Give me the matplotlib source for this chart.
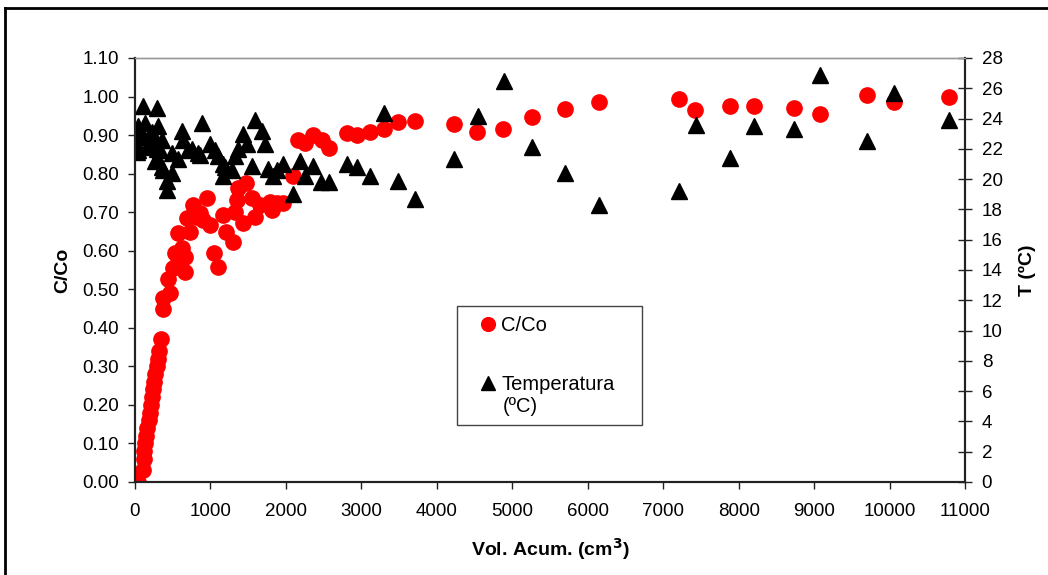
import matplotlib
matplotlib.use("Agg")
from matplotlib import pyplot as plt
from matplotlib.lines import Line2D
from matplotlib.patches import Rectangle

plt.rcParams['font.family'] = ['Liberation Sans', 'DejaVu Sans']

# C/Co vs volumen acumulado
vol_c = [20, 40, 100, 115, 125, 135, 150, 165, 180, 195, 215, 230, 245, 255, 265, 285, 300, 320, 350,
         375, 464, 375, 442, 508, 663, 574, 530, 619, 663, 574, 729, 685, 773, 862, 906, 994, 959, 817,
         1051, 1105, 1162, 1206, 1303, 1347, 1370, 1471, 1325, 1436, 1546, 1591, 1657, 1811, 1790, 1966,
         1878, 2090, 2165, 2253, 2363, 2474, 2576, 2814, 2946, 3115, 3300, 3490, 3711, 4232, 4538, 4882,
         5266, 5699, 6154, 7207, 7428, 7885, 8202, 8733, 9079, 9706, 10060, 10793]
c_co = [0.00, 0.00, 0.03, 0.06, 0.08, 0.10, 0.12, 0.14, 0.16, 0.18, 0.20, 0.22, 0.24, 0.26, 0.28, 0.30,
        0.32, 0.34, 0.37,
        0.45, 0.49, 0.477, 0.526, 0.554, 0.545, 0.571, 0.593, 0.606, 0.584, 0.647, 0.649, 0.684, 0.718,
        0.697, 0.680, 0.667, 0.736, 0.688, 0.593, 0.558, 0.693, 0.649, 0.623, 0.731, 0.762, 0.775, 0.701,
        0.671, 0.736, 0.688, 0.718, 0.706, 0.727, 0.725, 0.723, 0.795, 0.887, 0.879, 0.900, 0.887, 0.866,
        0.905, 0.900, 0.909, 0.915, 0.934, 0.936, 0.929, 0.909, 0.915, 0.948, 0.967, 0.986, 0.993, 0.965,
        0.976, 0.975, 0.971, 0.955, 1.003, 0.987, 1.000]

# Temperatura (ºC)
vol_t = [0, 0, 20, 44, 44, 110, 110, 133, 155, 199, 221, 243, 265, 287, 287, 287, 309, 331, 353, 353,
         375, 420, 420, 486, 486, 574, 619, 641, 707, 751, 839, 862, 884, 994, 1060, 1105, 1171, 1171,
         1193, 1281, 1325, 1370, 1436, 1480, 1546, 1591, 1679, 1723, 1767, 1834, 1878, 1958, 2090, 2187,
         2253, 2363, 2461, 2576, 2814, 2946, 3115, 3300, 3490, 3711, 4232, 4542, 4890, 5266, 5699, 6154,
         7210, 7431, 7886, 8204, 8734, 9079, 9706, 10060, 10793]
temp = [23.0, 22.5, 21.8, 23.5, 21.9, 24.8, 22.8, 23.7, 22.1, 23.0, 23.1, 22.3, 21.2, 24.7, 22.0, 21.3,
        23.5, 21.9, 22.6, 20.8, 20.6, 19.9, 19.3, 21.7, 20.4, 21.3, 23.2, 22.6, 21.9, 22.0, 21.7, 21.6,
        23.7, 22.3, 21.9, 21.5, 21.0, 20.2, 20.8, 20.6, 21.5, 22.0, 23.0, 22.3, 20.9, 23.9, 23.2, 22.3,
        20.7, 20.2, 20.6, 21.0, 19.0, 21.2, 20.2, 20.9, 19.8, 19.8, 21.0, 20.8, 20.2, 24.4, 19.9, 18.7,
        21.3, 24.2, 26.5, 22.1, 20.4, 18.3, 19.2, 23.6, 21.4, 23.5, 23.3, 26.9, 22.5, 25.7, 23.9]

x_ticks = list(range(0, 11001, 1000))
c_ticks = [i / 100 for i in range(0, 111, 10)]
t_ticks = list(range(0, 29, 2))

fs = 13.5

fig = plt.figure(figsize=(10.48, 5.75), dpi=100)
ax = fig.add_axes([135 / 1048, 93 / 575, 830 / 1048, 424 / 575])
ax2 = ax.twinx()

ax.plot(vol_c, c_co, 'o', color='#ff0000', ms=11, mec='#ff0000', ls='none', label='C/Co')
ax2.plot(vol_t, temp, '^', color='black', ms=11.5, ls='none', label='Temperatura')

ax.set_xlim(0, 11000)
ax.set_ylim(0, 1.10)
ax2.set_ylim(0, 28)
ax.set_xticks(x_ticks)
ax.set_yticks(c_ticks)
ax.set_yticklabels(['%.2f' % v for v in c_ticks])
ax2.set_yticks(t_ticks)

for a in (ax, ax2):
    a.spines['top'].set_color('#999999')
    a.spines['top'].set_linewidth(1)
    for s in ('left', 'bottom', 'right'):
        a.spines[s].set_color('#222222')
        a.spines[s].set_linewidth(1.5)

ax.tick_params(axis='x', labelsize=fs, direction='out', length=5, width=1, colors='#222222',
               labelcolor='black', pad=10)
ax.tick_params(axis='y', labelsize=fs, direction='out', length=5, width=1, colors='#222222',
               labelcolor='black', pad=6.5)
ax2.tick_params(axis='y', labelsize=fs, direction='inout', length=10, width=1, colors='#222222',
                labelcolor='black', pad=7)

ax.set_xlabel('Vol. Acum. (cm$^\\mathbf{3}$)', fontsize=14, fontweight='bold', labelpad=12)
ax.set_ylabel('C/Co', fontsize=14, fontweight='bold', labelpad=8)
ax2.set_ylabel('T (ºC)', fontsize=14, fontweight='bold', labelpad=12)

# legend box
fig.patches.append(Rectangle((457 / 1048, 1 - 425 / 575), 185 / 1048, 119 / 575,
                             transform=fig.transFigure, fill=False, ec='#444444', lw=1))
h1, l1 = ax.get_legend_handles_labels()
h2, l2 = ax2.get_legend_handles_labels()
fig.legend(h1 + h2, l1 + l2, loc='upper left', bbox_to_anchor=(470 / 1048, 1 - 306 / 575),
           frameon=False, fontsize=14.5, handlelength=0.8, handletextpad=0.25, labelspacing=2.0,
           markerscale=0.9, borderpad=0)
fig.text(503 / 1048, 1 - 406 / 575, '(ºC)', fontsize=14.5, va='center', ha='left')

# outer frame
fig.add_artist(Line2D([5 / 1048, 5 / 1048], [0, 1 - 8 / 575], transform=fig.transFigure,
                      color='black', lw=2))
fig.add_artist(Line2D([5 / 1048, 1], [1 - 8 / 575, 1 - 8 / 575], transform=fig.transFigure,
                      color='black', lw=2))

fig.savefig('out.png', dpi=100)
